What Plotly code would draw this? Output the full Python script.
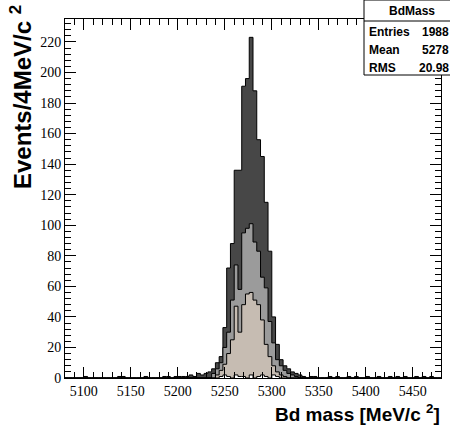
import plotly.graph_objects as go

# ---- data -------------------------------------------------------------
x_lo, bin_w, n_bins = 5080, 4, 100
bin_edges = [x_lo + bin_w * i for i in range(n_bins + 1)]

# counts per 4 MeV bin, index 0 = [5080,5084)
background_bins = {5: 1, 14: 1, 15: 1, 21: 1, 26: 1, 27: 1, 29: 1, 30: 1, 31: 1,
                   32: 1, 65: 1, 66: 1, 70: 1, 72: 1, 75: 1, 77: 1, 80: 1, 83: 1,
                   86: 1, 88: 1, 90: 1, 93: 1, 95: 1, 97: 1}
peak_total = [2, 1, 3, 2, 3, 4, 6, 10, 14, 33, 72, 88, 136, 136, 191, 196, 223,
              188, 156, 145, 115, 83, 40, 22, 12, 8, 6, 4, 3, 2, 1]
peak_gray = [0, 0, 0, 0, 0, 0, 3, 6, 10, 20, 30, 51, 74, 58, 95, 98, 101,
             89, 83, 66, 59, 37, 23, 12, 8, 5, 3, 2, 1, 0, 0]
peak_tan = [0, 0, 0, 0, 0, 0, 0, 2, 5, 9, 16, 25, 47, 30, 48, 55, 56,
            51, 48, 38, 22, 14, 8, 4, 2, 1, 0, 0, 0, 0, 0]
peak_white = [0, 0, 0, 0, 0, 0, 0, 0, 1, 2, 1, 0, 2, 1, 1, 0, 2,
              0, 1, 2, 1, 0, 2, 1, 0, 0, 0, 0, 0, 0, 0]
peak_start = 33  # bin index of first value in peak arrays

stats_title = "BdMass"
stats_labels = ["Entries", "Mean", "RMS"]
stats_values = ["1988", "5278", "20.98"]


def full(peak, bg=None):
    arr = [0] * n_bins
    if bg:
        for k, v in bg.items():
            arr[k] = v
    for j, v in enumerate(peak):
        arr[peak_start + j] = v
    return arr


layers = [
    (full(peak_total, background_bins), "#474747"),
    (full(peak_gray), "#9b9b9b"),
    (full(peak_tan), "#c6bcb2"),
    (full(peak_white), "#ffffff"),
]

fig = go.Figure()
for counts, color in layers:
    xs = [bin_edges[0]] + bin_edges[:-1] + [bin_edges[-1]]
    ys = [0] + counts + [0]
    fig.add_trace(go.Scatter(
        x=xs, y=ys, mode="lines", line=dict(shape="hv", color="black", width=1),
        fill="tozeroy", fillcolor=color, showlegend=False, hoverinfo="skip"))

# ---- layout -----------------------------------------------------------
L, R, T, B = 65, 9, 19, 62
W, H = 450, 440
pw, ph = W - L - R, H - T - B


def px(xp):
    return (xp - L) / pw


def py(yp):
    return (H - B - yp) / ph


tickfont = dict(family="Liberation Serif", size=14, color="black")
axis_common = dict(showline=True, linecolor="black", linewidth=1, mirror="allticks",
                   ticks="inside", tickcolor="black", showgrid=False, zeroline=False,
                   tickfont=tickfont)

fig.update_xaxes(range=[5080, 5480], dtick=50, tick0=5100, ticklen=11,
                 minor=dict(dtick=10, ticks="inside", ticklen=6, tickcolor="black"),
                 **axis_common)
fig.update_yaxes(range=[0, 235], dtick=20, tick0=0, ticklen=11,
                 minor=dict(dtick=4, ticks="inside", ticklen=6, tickcolor="black"),
                 **axis_common)

sans = "Liberation Sans"
annotations = [
    dict(text="<b>Bd mass [MeV/c <sup>2</sup>]</b>", xref="paper", yref="paper",
         x=px(442), y=py(413), xanchor="right", yanchor="middle", showarrow=False,
         font=dict(family=sans, size=19, color="black")),
    dict(text="<b>Events/4MeV/c <sup>2</sup></b>", xref="paper", yref="paper",
         x=px(21), y=py(3), xanchor="center", yanchor="top", textangle=-90,
         showarrow=False, font=dict(family=sans, size=24, color="black")),
]

# stats box
box_l, box_r, box_t, box_b, sep_y = 364, 462, 0, 75, 21
shapes = [
    dict(type="rect", xref="paper", yref="paper", x0=px(box_l), x1=px(box_r),
         y0=py(box_b), y1=py(box_t), line=dict(color="black", width=1),
         fillcolor="white", layer="above"),
    dict(type="line", xref="paper", yref="paper", x0=px(box_l), x1=px(box_r),
         y0=py(sep_y), y1=py(sep_y), line=dict(color="black", width=1)),
]
stat_font = dict(family=sans, size=12, color="black")
annotations.append(dict(text="<b>%s</b>" % stats_title, xref="paper", yref="paper",
                        x=px(412), y=py(11), xanchor="center", yanchor="middle",
                        showarrow=False, font=stat_font))
row_y = [32, 50, 68]
for lab, val, yy in zip(stats_labels, stats_values, row_y):
    annotations.append(dict(text="<b>%s</b>" % lab, xref="paper", yref="paper",
                            x=px(367), y=py(yy), xanchor="left", yanchor="middle",
                            showarrow=False, font=stat_font))
    annotations.append(dict(text="<b>%s</b>" % val, xref="paper", yref="paper",
                            x=px(451), y=py(yy), xanchor="right", yanchor="middle",
                            showarrow=False, font=stat_font))

fig.update_layout(width=W, height=H, margin=dict(l=L, r=R, t=T, b=B),
                  paper_bgcolor="white", plot_bgcolor="white",
                  annotations=annotations, shapes=shapes)

fig.write_html("out.html")
